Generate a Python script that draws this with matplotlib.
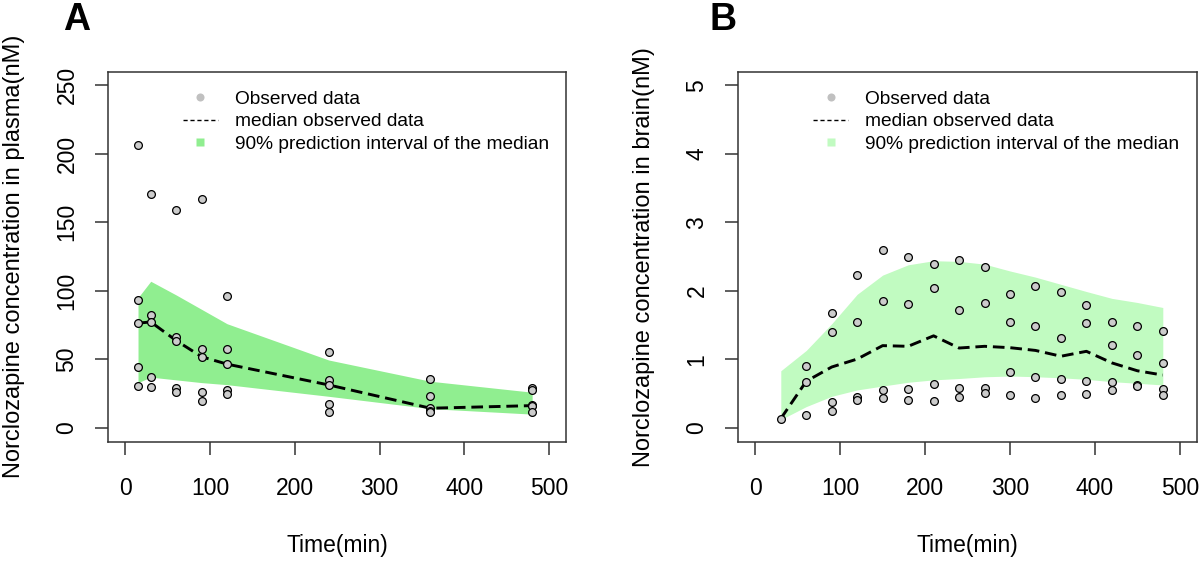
import matplotlib
matplotlib.use("Agg")
import matplotlib.pyplot as plt
from matplotlib.lines import Line2D
import numpy as np

plt.rcParams['font.family'] = ['Liberation Sans', 'DejaVu Sans']

# ---- panel A: plasma ----
time_a = [15, 30, 60, 90, 120, 240, 360, 480]
obs_a = [
    [206.8, 93.5, 76.4, 44.4, 30.3],
    [170.6, 82.4, 77.3, 37.3, 29.5],
    [159.3, 66.6, 63.7, 29.1, 25.9],
    [167.0, 57.9, 51.9, 25.9, 19.9],
    [96.0, 57.9, 46.5, 27.4, 24.4],
    [55.3, 35.1, 31.3, 17.5, 11.4],
    [35.6, 23.3, 14.3, 12.5, 11.4],
    [29.1, 27.9, 16.7, 15.9, 11.4],
]
median_a = [76.4, 77.3, 63.7, 51.9, 46.5, 31.3, 14.3, 16.2]
lower_a = [33, 37, 35, 33, 31.5, 23, 14, 10]
upper_a = [95, 107, 97, 86.5, 76, 49.5, 34, 26]

# ---- panel B: brain ----
time_b = [30, 60, 90, 120, 150, 180, 210, 240, 270, 300, 330, 360, 390, 420, 450, 480]
obs_b = [
    [0.134],
    [0.896, 0.665, 0.192],
    [1.671, 1.396, 0.380, 0.240],
    [2.234, 1.551, 0.457, 0.409],
    [2.596, 1.854, 0.553, 0.428],
    [2.50, 1.81, 0.568, 0.409],
    [2.389, 2.046, 0.640, 0.394],
    [2.457, 1.72, 0.587, 0.457],
    [2.341, 1.825, 0.587, 0.506],
    [1.951, 1.551, 0.809, 0.481],
    [2.066, 1.493, 0.741, 0.428],
    [1.98, 1.305, 0.708, 0.486],
    [1.792, 1.536, 0.688, 0.50],
    [1.551, 1.204, 0.674, 0.553],
    [1.493, 1.069, 0.626, 0.607],
    [1.416, 0.948, 0.568, 0.486],
]
median_b = [0.134, 0.68, 0.888, 1.004, 1.2, 1.19, 1.343, 1.165, 1.19, 1.17,
            1.13, 1.045, 1.117, 0.948, 0.833, 0.77]
lower_b = [0.12, 0.31, 0.46, 0.553, 0.61, 0.665, 0.70, 0.72, 0.745, 0.756,
           0.746, 0.73, 0.708, 0.674, 0.65, 0.626]
upper_b = [0.833, 1.13, 1.52, 1.95, 2.23, 2.38, 2.44, 2.43, 2.39, 2.29,
           2.2, 2.095, 1.99, 1.89, 1.83, 1.757]

legend_labels = ["Observed data", "median observed data",
                 "90% prediction interval of the median"]

fig = plt.figure(figsize=(12, 5.61), dpi=100)
ax_a = fig.add_axes([0.0903, 0.2130, 0.3814, 0.6592])
ax_b = fig.add_axes([0.6153, 0.2130, 0.3820, 0.6592])

panels = [
    (ax_a, time_a, obs_a, median_a, lower_a, upper_a, '#90ee90',
     (-10, 260), np.arange(0, 251, 50), "Norclozapine concentration in plasma(nM)",
     "A", 77),
    (ax_b, time_b, obs_b, median_b, lower_b, upper_b, '#c1fbc1',
     (-0.2, 5.2), np.arange(0, 6, 1), "Norclozapine concentration in brain(nM)",
     "B", 723),
]

for ax, t, obs, med, lo, hi, band_col, ylim, yticks, ylabel, tag, tag_x in panels:
    ax.fill_between(t, lo, hi, color=band_col, lw=0, zorder=1)
    ax.plot(t, med, color='black', lw=2.1, ls=(0, (4, 2)), zorder=2)
    for ti, vals in zip(t, obs):
        ax.plot([ti] * len(vals), vals, 'o', ms=5.6, mfc='#cccccc',
                mec='black', mew=0.9, zorder=3)

    ax.set_xlim(-20, 520)
    ax.set_ylim(*ylim)
    ax.set_xticks(np.arange(0, 501, 100))
    ax.set_yticks(yticks)
    ax.tick_params(axis='both', direction='out', length=9.5, width=1.1,
                   color='#333333', labelsize=16.5)
    ax.tick_params(axis='x', pad=16)
    ax.tick_params(axis='y', pad=12)
    for lab in ax.get_yticklabels():
        lab.set_rotation(90)
        lab.set_va('center')
    for sp in ax.spines.values():
        sp.set_linewidth(1.1)
        sp.set_color('#333333')

    ax.set_xlabel("Time(min)", fontsize=16.5)
    ax.set_ylabel(ylabel, fontsize=17)
    ax.xaxis.set_label_coords(0.5, -0.251)
    ax.yaxis.set_label_coords(-0.182, 0.5)

    handles = [
        Line2D([], [], ls='none', marker='o', ms=5.8, mfc='#c0c0c0', mec='none'),
        Line2D([], [], color='black', lw=1.0, ls=(0, (3, 2))),
        Line2D([], [], ls='none', marker='s', ms=6, mfc=band_col, mec='none'),
    ]
    ax.legend(handles, legend_labels, loc='upper left', bbox_to_anchor=(0.163, 0.95),
              frameon=False, fontsize=13.8, handlelength=1.83, handletextpad=0.88,
              labelspacing=0.28, borderpad=0, borderaxespad=0)

    fig.text(tag_x / 1200, 1 - 20 / 561, tag, fontsize=27, fontweight='bold',
             ha='center', va='center')

fig.savefig("out.png", dpi=100)
